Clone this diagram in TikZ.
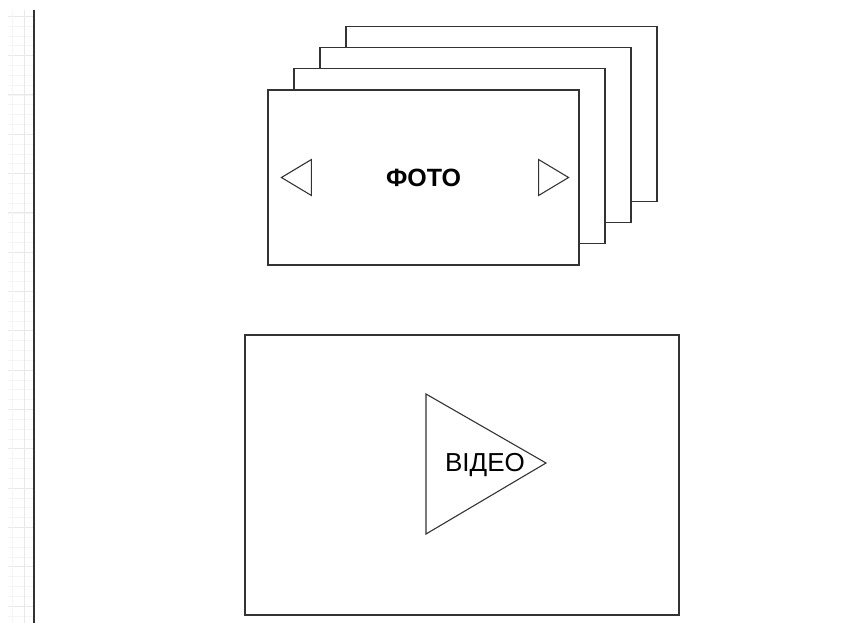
\documentclass[tikz,border=0pt]{standalone}
\usepackage{fontspec}
\setmainfont{Liberation Sans}
\usetikzlibrary{positioning}
\definecolor{SketchLine}{HTML}{333333}
\definecolor{GridMinor}{HTML}{F5F5F5}
\definecolor{GridMajor}{HTML}{E8E8E8}

\begin{document}
\begin{tikzpicture}[x=1pt,y=-1pt,
    card/.style={
      draw=SketchLine,
      fill=white,
      line width=1.15pt,
      minimum width=311,
      minimum height=175,
      inner sep=0pt
    },
    screen/.style={
      draw=SketchLine,
      line width=1.15pt,
      minimum width=434,
      minimum height=280,
      inner sep=0pt
    },
    navtri/.style={draw=SketchLine, line width=1.1pt},
    gridminor/.style={draw=GridMinor, line width=0.8pt},
    gridmajor/.style={draw=GridMajor, line width=1pt}]

    \useasboundingbox (0,0) rectangle (853,623);

    % faint grid strip on the left edge
    \foreach \k in {0,...,61}
      \draw[gridminor] (8,{16.3+9.83*\k}) -- (34,{16.3+9.83*\k});
    \foreach \k in {0,...,15}
      \draw[gridmajor] (8,{16.3+39.32*\k}) -- (34,{16.3+39.32*\k});
    \draw[gridminor] (12.7,10) -- (12.7,623);
    \draw[gridmajor] (24.3,10) -- (24.3,623);
    \draw[SketchLine, line width=1.6pt] (34,10) -- (34,623);

    % stack of photo cards (back to front)
    \foreach \i in {3,2,1}
      \node[card] (card\i) at ({423.5+26*\i},{177.5-21.3*\i}) {};
    \node[card] (photo) at (423.5,177.5) {};
    \node[font=\fontsize{25}{28}\selectfont\bfseries] (phototext) at (423.5,178) {ФОТО};

    % left / right browse arrows
    \draw[navtri] ([xshift=14]photo.west) -- ++(30,-18) -- ++(0,36) -- cycle;
    \draw[navtri] ([xshift=-11]photo.east) -- ++(-30,-18) -- ++(0,36) -- cycle;

    % video screen with play triangle
    \node[screen] (video) at (462,475) {};
    \draw[navtri] ([xshift=-36,yshift=81]video.center) -- ++(120,69) -- ++(-120,71) -- cycle;
    \node[font=\fontsize{26}{29}\selectfont] (videotext) at (485,465) {ВІДЕО};
  \end{tikzpicture}
\end{document}
